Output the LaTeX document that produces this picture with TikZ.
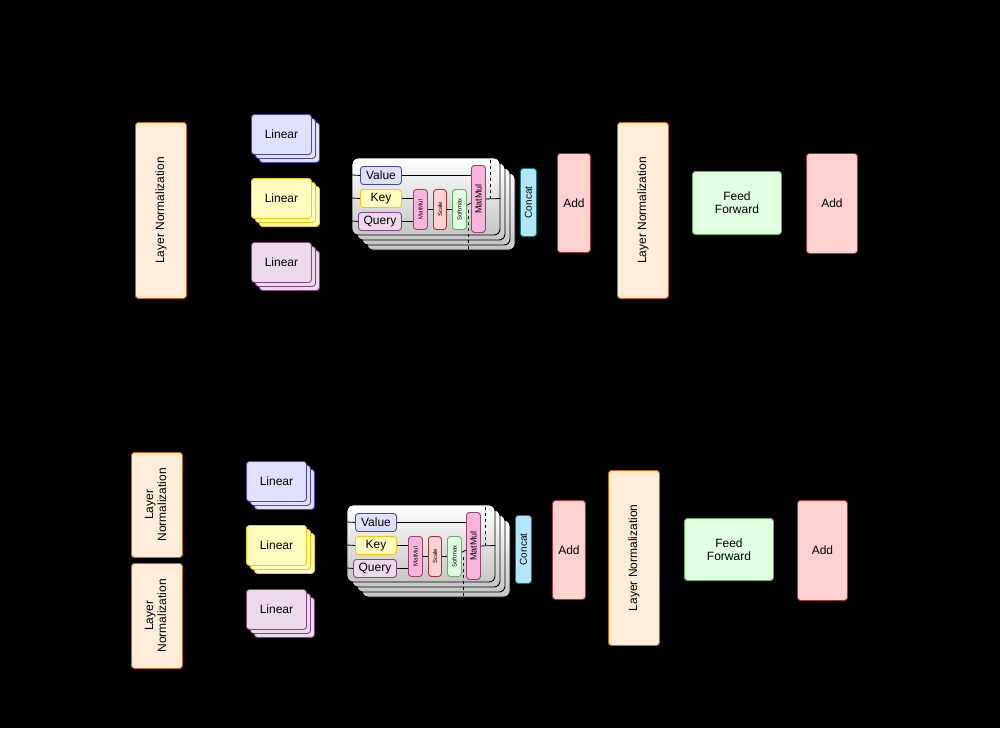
\documentclass[tikz,border=0pt]{standalone}
\usepackage{fontspec}
\setmainfont{Liberation Sans}
\begin{document}
\begin{tikzpicture}[x=1pt,y=-1pt,
  bx/.style={draw,line width=0.9pt,rounded corners=3pt,inner sep=0pt,align=center,font=\fontsize{12}{13}\selectfont},
  orng/.style={bx,fill=orange!15!white,draw=orange!80!black},
  blu/.style={bx,fill=blue!12!white,draw=blue!45!gray},
  yel/.style={bx,fill=yellow!25!white,draw=yellow!60!orange},
  pur/.style={bx,fill=violet!15!white,draw=violet!45!gray},
  redb/.style={bx,fill=red!18!white,draw=red!55!black!80},
  grn/.style={bx,fill=green!12!white,draw=green!45!black!60},
  pnk/.style={bx,fill=magenta!30!white,draw=magenta!50!black,font=\fontsize{6}{7}\selectfont},
  cyn/.style={bx,fill=cyan!30!white,draw=teal,font=\fontsize{10}{11}\selectfont},
  att/.style={draw=black,line width=0.9pt,rounded corners=6pt,top color=white,bottom color=gray!45},
  sm/.style={bx,font=\fontsize{11}{12}\selectfont,rounded corners=2pt},
  ln/.style={line width=0.8pt}]
\useasboundingbox[fill=black] (0,0) rectangle (1000,728);
\newcommand\boxat[4]{\node[#1,minimum width=#3,minimum height=#4,anchor=north west] at (#2) {};}
\newcommand\linstack[4]{% style, x, y, name
  \foreach \d in {8,4} {\node[#1,minimum width=60,minimum height=40,anchor=north west] at (#2+\d,#3+\d) {};}
  \node[#1,minimum width=60,minimum height=40,anchor=north west] (#4) at (#2,#3) {Linear};}
\newcommand\row[3]{% dx, dy, suffix
  \begin{scope}[shift={(#1,#2)}]
  \linstack{blu}{251}{114}{lv#3}
  \linstack{yel}{251}{178}{lk#3}
  \linstack{pur}{251}{242}{lq#3}
  \foreach \d in {15,10,5} {\path[att] (352+\d,158+\d) rectangle (500+\d,235+\d);}
  \path[att] (352,158) rectangle (500,235);
  \node[sm,blu,minimum width=41,minimum height=18,anchor=north west] (v#3) at (360,166) {Value};
  \node[sm,yel,minimum width=41,minimum height=18,anchor=north west] (k#3) at (360,189) {Key};
  \node[sm,pur,minimum width=43,minimum height=18,anchor=north west] (q#3) at (358,212) {Query};
  \node[pnk,minimum width=14,minimum height=40,anchor=north west] (mm#3) at (413,189) {\rotatebox{90}{MatMul}};
  \node[pnk,redb,font=\fontsize{6}{7}\selectfont,minimum width=13,minimum height=40,anchor=north west] (sc#3) at (433,189) {\rotatebox{90}{Scale}};
  \node[pnk,grn,font=\fontsize{6}{7}\selectfont,minimum width=14,minimum height=40,anchor=north west] (sf#3) at (452,189) {\rotatebox{90}{Softmax}};
  \node[pnk,font=\fontsize{9}{10}\selectfont,minimum width=14,minimum height=67,anchor=north west] (mb#3) at (471,165) {\rotatebox{90}{MatMul}};
  \draw[ln] (352,175) -- (v#3.west); \draw[ln] (352,198) -- (k#3.west); \draw[ln] (352,221) -- (q#3.west);
  \draw[ln] (v#3.east) -- (v#3.east -| mb#3.west);
  \draw[ln] (k#3.east) -- (k#3.east -| mm#3.west);
  \draw[ln] (q#3.east) -- (q#3.east -| mm#3.west);
  \draw[ln] (mm#3) -- (sc#3); \draw[ln] (sc#3) -- (sf#3); \draw[ln] (sf#3) -- (mb#3);
  \draw[ln] (mb#3.east) -- (500,198.5);
  \draw[ln,dashed] (468,210) -- (468,262);
  \draw[ln,dashed] (490,160) -- (490,198);
  \node[cyn,minimum width=16,minimum height=68,anchor=north west] (cc#3) at (520,168) {\rotatebox{90}{Concat}};
  \node[redb,minimum width=33,minimum height=99,anchor=north west] (ad#3) at (557,153) {Add};
  \end{scope}}
% top row
\node[orng,minimum width=51,minimum height=176,anchor=north west] (ln1) at (135,122) {\rotatebox{90}{Layer Normalization}};
\row{0}{0}{a}
\node[orng,minimum width=51,minimum height=176,anchor=north west] (ln2) at (617,122) {\rotatebox{90}{Layer Normalization}};
\node[grn,minimum width=89,minimum height=63,anchor=north west] (ff1) at (692,171) {Feed\\Forward};
\node[redb,minimum width=51,minimum height=100,anchor=north west] (ad2) at (806,153) {Add};
% bottom row
\node[orng,minimum width=51,minimum height=105,anchor=north west] (ln3) at (131,452) {\rotatebox{90}{\begin{tabular}{c}Layer\\Normalization\end{tabular}}};
\node[orng,minimum width=51,minimum height=105,anchor=north west] (ln4) at (131,563) {\rotatebox{90}{\begin{tabular}{c}Layer\\Normalization\end{tabular}}};
\row{-5}{347}{b}
\node[orng,minimum width=51,minimum height=175,anchor=north west] (ln5) at (608,470) {\rotatebox{90}{Layer Normalization}};
\node[grn,minimum width=89,minimum height=62,anchor=north west] (ff2) at (684,518) {Feed\\Forward};
\node[redb,minimum width=50,minimum height=100,anchor=north west] (ad3) at (797,500) {Add};
\end{tikzpicture}
\end{document}
